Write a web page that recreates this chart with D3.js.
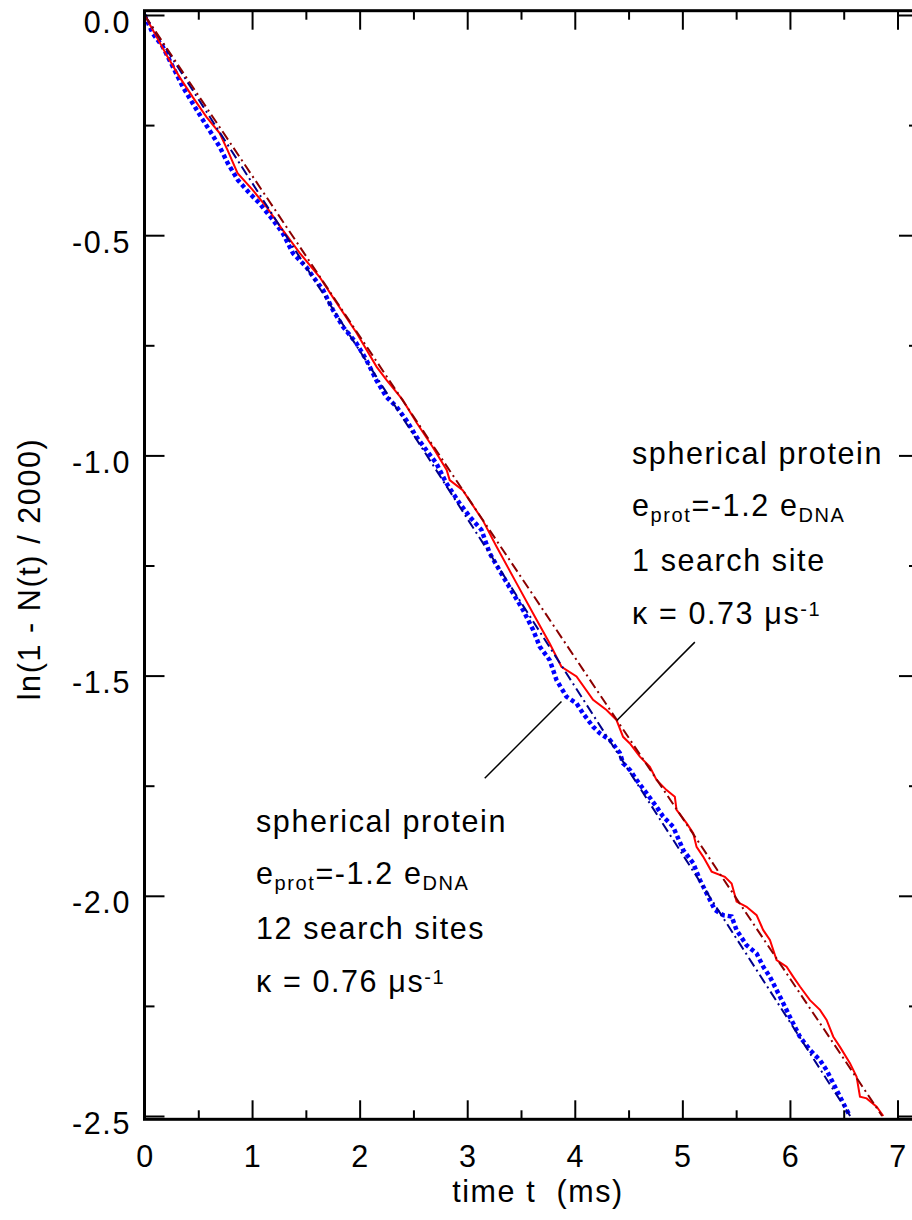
<!DOCTYPE html>
<html><head><meta charset="utf-8">
<script src="https://cdn.jsdelivr.net/npm/d3@7"></script>
<style>
body{margin:0;background:#fff}
svg text{font-family:"Liberation Sans",Arial,Helvetica,sans-serif;fill:#000}
</style>
</head><body>
<svg id="chart" width="912" height="1220"></svg>
<script>
// ---- data ----
const redT = [0,0.093,0.205,0.326,0.447,0.577,0.698,0.772,0.865,1.005,1.135,1.284,1.442,1.628,1.749,1.972,2.158,2.251,2.400,2.530,2.679,2.809,2.837,2.958,3.144,3.272,3.458,3.628,3.767,3.876,4.016,4.170,4.295,4.388,4.449,4.512,4.605,4.698,4.760,4.853,4.930,4.946,5.039,5.101,5.132,5.193,5.272,5.395,5.458,5.504,5.597,5.690,5.752,5.814,5.876,5.969,6.031,6.093,6.186,6.279,6.341,6.403,6.465,6.558,6.620,6.651,6.713,6.806,6.868];
const redY = [0,-0.041,-0.091,-0.141,-0.186,-0.232,-0.268,-0.307,-0.359,-0.397,-0.436,-0.488,-0.540,-0.595,-0.640,-0.722,-0.799,-0.829,-0.874,-0.926,-0.981,-1.033,-1.056,-1.079,-1.147,-1.207,-1.290,-1.366,-1.427,-1.480,-1.502,-1.555,-1.578,-1.601,-1.639,-1.654,-1.684,-1.707,-1.737,-1.760,-1.775,-1.805,-1.835,-1.858,-1.889,-1.911,-1.945,-1.957,-1.972,-2.013,-2.025,-2.044,-2.078,-2.100,-2.146,-2.161,-2.184,-2.206,-2.237,-2.259,-2.282,-2.320,-2.343,-2.380,-2.411,-2.456,-2.460,-2.479,-2.500];
const blueT = [0,0.077,0.170,0.248,0.356,0.449,0.542,0.620,0.698,0.775,0.868,0.977,1.070,1.193,1.287,1.380,1.504,1.566,1.659,1.752,1.845,1.969,2.062,2.155,2.248,2.341,2.434,2.528,2.620,2.713,2.806,2.930,3.023,3.132,3.209,3.333,3.426,3.519,3.612,3.674,3.767,3.830,3.923,4.016,4.077,4.170,4.233,4.326,4.419,4.449,4.512,4.574,4.667,4.760,4.821,4.914,5.008,5.101,5.163,5.225,5.302,5.380,5.458,5.504,5.597,5.690,5.752,5.814,5.876,5.938,6.000,6.093,6.186,6.279,6.341,6.403,6.465,6.527,6.558];
const blueY = [0,-0.042,-0.072,-0.110,-0.163,-0.201,-0.238,-0.268,-0.299,-0.337,-0.375,-0.405,-0.428,-0.465,-0.496,-0.541,-0.572,-0.594,-0.624,-0.670,-0.708,-0.745,-0.783,-0.829,-0.867,-0.889,-0.920,-0.958,-0.988,-1.018,-1.063,-1.109,-1.139,-1.169,-1.222,-1.275,-1.313,-1.351,-1.396,-1.434,-1.465,-1.510,-1.548,-1.563,-1.586,-1.616,-1.631,-1.646,-1.676,-1.699,-1.714,-1.737,-1.767,-1.798,-1.820,-1.843,-1.896,-1.926,-1.964,-1.994,-2.032,-2.044,-2.047,-2.078,-2.112,-2.131,-2.161,-2.184,-2.214,-2.244,-2.275,-2.320,-2.350,-2.373,-2.396,-2.426,-2.456,-2.486,-2.500];
// exponential fits (straight lines in ln scale)
const redFitT = [0, 6.857];
const redFitY = [0, -2.5];
const blueFitT = [0, 6.56];
const blueFitY = [0, -2.5];
// ticks
const xMajor = [0,1,2,3,4,5,6,7];
const xMinor = [0.5,1.5,2.5,3.5,4.5,5.5,6.5];
const yMajor = [0,-0.5,-1,-1.5,-2,-2.5];
const yMinor = [-0.25,-0.75,-1.25,-1.75,-2.25];
const yTickLabels = ["0.0","-0.5","-1.0","-1.5","-2.0","-2.5"];
// annotation leader lines [t0,y0,t1,y1]
const leaders = [[5.116,-1.424,4.395,-1.601],[3.876,-1.559,3.163,-1.733]];

// ---- layout ----
const svg = d3.select("#chart");
const x = d3.scaleLinear().domain([0,7]).range([144.5,897.5]);
const y = d3.scaleLinear().domain([-2.5,0]).range([1116,15]);
const L = 144.5, R = 918, T = 10.7, B = 1119.3;
const FS = 30.5, LS = "1.6px";

const line = d3.line().x(d=>x(d[0])).y(d=>y(d[1]));
const zip = (a,b)=>a.map((v,i)=>[v,b[i]]);

svg.append("defs").append("clipPath").attr("id","clip")
  .append("rect").attr("x",L).attr("y",T).attr("width",R-L).attr("height",B-T);

const g = svg.append("g").attr("clip-path","url(#clip)");
g.append("path").datum(zip(blueT,blueY)).attr("d",line)
  .attr("fill","none").attr("stroke","#0000ff").attr("stroke-width",4.5)
  .attr("stroke-dasharray","4,3");
g.append("path").datum(zip(redT,redY)).attr("d",line)
  .attr("fill","none").attr("stroke","#ff0000").attr("stroke-width",2);
g.append("path").datum(zip(blueFitT,blueFitY)).attr("d",line)
  .attr("fill","none").attr("stroke","#00008b").attr("stroke-width",2)
  .attr("stroke-dasharray","10,4,2,4");
g.append("path").datum(zip(redFitT,redFitY)).attr("d",line)
  .attr("fill","none").attr("stroke","#8b0000").attr("stroke-width",2)
  .attr("stroke-dasharray","10,4,2,4");

// leaders
svg.selectAll(".leader").data(leaders).enter().append("line")
  .attr("x1",d=>x(d[0])).attr("y1",d=>y(d[1]))
  .attr("x2",d=>x(d[2])).attr("y2",d=>y(d[3]))
  .attr("stroke","#000").attr("stroke-width",1.5);

// axes (ticks only)
function styleAxis(sel){ sel.select(".domain").remove(); sel.selectAll("line").attr("stroke","#000").attr("stroke-width",2); sel.selectAll("text").remove(); }
svg.append("g").attr("transform",`translate(0,${B})`).call(d3.axisBottom(x).tickValues(xMajor).tickSize(-19)).call(styleAxis);
svg.append("g").attr("transform",`translate(0,${B})`).call(d3.axisBottom(x).tickValues(xMinor).tickSize(-9)).call(styleAxis);
svg.append("g").attr("transform",`translate(0,${T})`).call(d3.axisTop(x).tickValues(xMajor).tickSize(-19)).call(styleAxis);
svg.append("g").attr("transform",`translate(0,${T})`).call(d3.axisTop(x).tickValues(xMinor).tickSize(-9)).call(styleAxis);
svg.append("g").attr("transform",`translate(${L},0)`).call(d3.axisLeft(y).tickValues(yMajor).tickSize(-20)).call(styleAxis);
svg.append("g").attr("transform",`translate(${L},0)`).call(d3.axisLeft(y).tickValues(yMinor).tickSize(-10)).call(styleAxis);
svg.append("g").attr("transform",`translate(${R},0)`).call(d3.axisRight(y).tickValues(yMajor).tickSize(-19)).call(styleAxis);
svg.append("g").attr("transform",`translate(${R},0)`).call(d3.axisRight(y).tickValues(yMinor).tickSize(-9)).call(styleAxis);

// frame
svg.append("rect").attr("x",L).attr("y",T).attr("width",R-L).attr("height",B-T)
  .attr("fill","none").attr("stroke","#000").attr("stroke-width",3);

// tick labels
svg.selectAll(".xl").data(xMajor).enter().append("text")
  .attr("x",d=>x(d)+1).attr("y",1167).attr("text-anchor","middle")
  .attr("font-size",FS).style("letter-spacing",LS).text(d=>d);
svg.selectAll(".yl").data(yMajor).enter().append("text")
  .attr("x",131).attr("y",d=>y(d)+17.5).attr("text-anchor","end")
  .attr("font-size",FS).style("letter-spacing",LS).text((d,i)=>yTickLabels[i]);

// axis titles
svg.append("text").attr("x",538).attr("y",1202).attr("text-anchor","middle")
  .attr("font-size",FS).style("letter-spacing",LS).style("white-space","pre")
  .text("time t  (ms)");
svg.append("text").attr("transform","translate(40,569) rotate(-90)").attr("text-anchor","middle")
  .attr("font-size",FS).style("letter-spacing",LS).style("white-space","pre")
  .text("ln(1 - N(t) / 2000)");

// annotation blocks
function block(px, py, sites, kappa){
  const gg = svg.append("g").attr("font-size",FS).style("letter-spacing",LS);
  gg.append("text").attr("x",px).attr("y",py).text("spherical protein");
  const t2 = gg.append("text").attr("x",px).attr("y",py+52);
  t2.append("tspan").text("e");
  t2.append("tspan").attr("font-size",20).attr("dy",6).text("prot");
  t2.append("tspan").attr("dy",-6).text("=-1.2 e");
  t2.append("tspan").attr("font-size",20).attr("dy",6).text("DNA");
  gg.append("text").attr("x",px).attr("y",py+107).text(sites);
  const t4 = gg.append("text").attr("x",px).attr("y",py+160).style("white-space","pre");
  t4.append("tspan").text("\u03ba = " + kappa + " \u03bcs");
  t4.append("tspan").attr("font-size",20).attr("dy",-8).text("-1");
}
block(632, 464, "1 search site", "0.73");
block(256, 832, "12 search sites", "0.76");
</script>
</body></html>
